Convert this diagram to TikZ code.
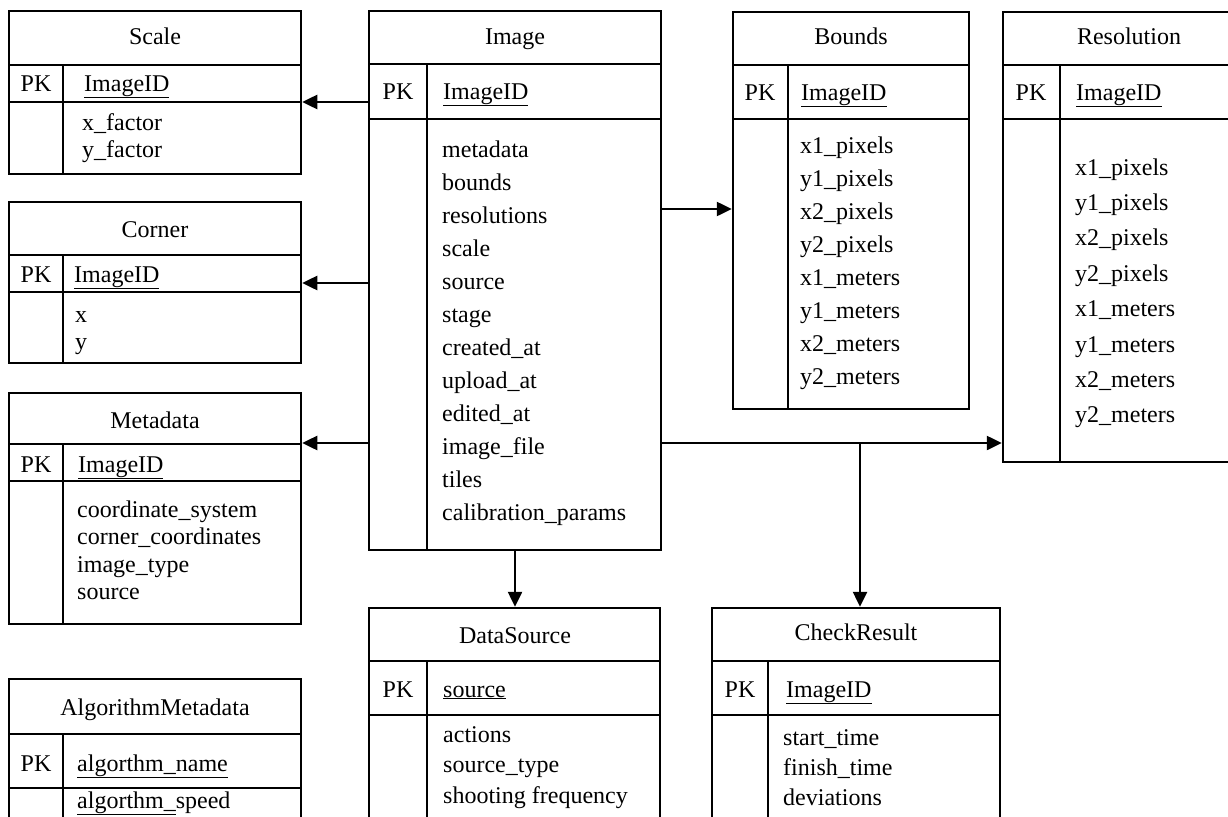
\documentclass[tikz,border=0pt]{standalone}
\usepackage{fontspec}
\setmainfont{Liberation Serif}
\usetikzlibrary{arrows.meta}

\begin{document}
\begin{tikzpicture}[
    x=1pt, y=-1pt,
    every node/.style={font=\fontsize{24}{28}\selectfont, inner sep=0pt},
    tbl/.style={draw, line width=2.5pt, rectangle},
    rowline/.style={line width=2pt},
    colline/.style={line width=1.3pt},
    title/.style={anchor=base},
    key/.style={anchor=base west},
    fields/.style={anchor=base west, font=\fontsize{24}{#1}\selectfont},
    link/.style={line width=2.5pt, -{Triangle[length=15pt, width=14pt]}}
  ]
  \useasboundingbox (0,0) rectangle (1228,816);
  \clip (0,0) rectangle (1228,816);

  % tables
  \node[tbl, minimum width=292pt, minimum height=163pt] (scale) at (155,92.5) {};
  \node[tbl, minimum width=292pt, minimum height=161pt] (corner) at (155,282.5) {};
  \node[tbl, minimum width=292pt, minimum height=231pt] (metadata) at (155,508.5) {};
  \node[tbl, minimum width=292pt, minimum height=201pt] (algometa) at (155,779.5) {};
  \node[tbl, minimum width=292pt, minimum height=539pt] (image) at (515,280.5) {};
  \node[tbl, minimum width=236pt, minimum height=397pt] (bounds) at (851,210.5) {};
  \node[tbl, minimum width=252pt, minimum height=450pt] (resolution) at (1129,237) {};
  \node[tbl, minimum width=291pt, minimum height=272pt] (datasource) at (514.5,744) {};
  \node[tbl, minimum width=288pt, minimum height=272pt] (checkresult) at (856,744) {};

  % rows and key column
  \draw[rowline] (9,65) -- (301,65) (9,102) -- (301,102);
  \draw[colline] (63,65) -- (63,174);
  \draw[rowline] (9,255) -- (301,255) (9,292) -- (301,292);
  \draw[colline] (63,255) -- (63,363);
  \draw[rowline] (9,444) -- (301,444) (9,481) -- (301,481);
  \draw[colline] (63,444) -- (63,624);
  \draw[rowline] (9,734) -- (301,734) (9,788) -- (301,788);
  \draw[colline] (63,734) -- (63,880);
  \draw[rowline] (369,64) -- (661,64) (369,119) -- (661,119);
  \draw[colline] (427,64) -- (427,550);
  \draw[rowline] (733,65) -- (969,65) (733,119) -- (969,119);
  \draw[colline] (788,65) -- (788,409);
  \draw[rowline] (1003,65) -- (1255,65) (1003,119) -- (1255,119);
  \draw[colline] (1060,65) -- (1060,462);
  \draw[rowline] (369,661) -- (660,661) (369,715) -- (660,715);
  \draw[colline] (427,661) -- (427,880);
  \draw[rowline] (712,661) -- (1000,661) (712,715) -- (1000,715);
  \draw[colline] (768,661) -- (768,880);

  % Scale
  \node[title] (scale-t) at (155,45) {Scale};
  \node[title] (scale-pk) at (36,91) {PK};
  \node[key] (scale-id) at (84,91) {\underline{ImageID}};
  \node[fields=27] (scale-f) at (82,130) {\begin{tabular}[t]{@{}l@{}}x\_factor\\y\_factor\end{tabular}};

  % Corner
  \node[title] (corner-t) at (155,237) {Corner};
  \node[title] (corner-pk) at (36,282) {PK};
  \node[key] (corner-id) at (74,282) {\underline{ImageID}};
  \node[fields=27] (corner-f) at (75,322) {\begin{tabular}[t]{@{}l@{}}x\\y\end{tabular}};

  % Metadata
  \node[title] (metadata-t) at (155,428) {Metadata};
  \node[title] (metadata-pk) at (36,472) {PK};
  \node[key] (metadata-id) at (78,472) {\underline{ImageID}};
  \node[fields=27.5] (metadata-f) at (77,517) {\begin{tabular}[t]{@{}l@{}}coordinate\_system\\corner\_coordinates\\image\_type\\source\end{tabular}};

  % AlgorithmMetadata
  \node[title] (algometa-t) at (155,715) {AlgorithmMetadata};
  \node[title] (algometa-pk) at (36,771) {PK};
  \node[key] (algometa-id) at (77,771) {\underline{algorthm\_name}};
  \node[key] (algometa-f) at (77,808) {\underline{algorthm\_}speed};

  % Image
  \node[title] (image-t) at (515,45) {Image};
  \node[title] (image-pk) at (398,99) {PK};
  \node[key] (image-id) at (443,99) {\underline{ImageID}};
  \node[fields=33] (image-f) at (442,157) {\begin{tabular}[t]{@{}l@{}}metadata\\bounds\\resolutions\\scale\\source\\stage\\created\_at\\upload\_at\\edited\_at\\image\_file\\tiles\\calibration\_params\end{tabular}};

  % Bounds
  \node[title] (bounds-t) at (851,45) {Bounds};
  \node[title] (bounds-pk) at (760,100) {PK};
  \node[key] (bounds-id) at (801,100) {\underline{ImageID}};
  \node[fields=33] (bounds-f) at (800,153) {\begin{tabular}[t]{@{}l@{}}x1\_pixels\\y1\_pixels\\x2\_pixels\\y2\_pixels\\x1\_meters\\y1\_meters\\x2\_meters\\y2\_meters\end{tabular}};

  % Resolution
  \node[title] (resolution-t) at (1129,45) {Resolution};
  \node[title] (resolution-pk) at (1031,100) {PK};
  \node[key] (resolution-id) at (1076,100) {\underline{ImageID}};
  \node[fields=35.4] (resolution-f) at (1075,175) {\begin{tabular}[t]{@{}l@{}}x1\_pixels\\y1\_pixels\\x2\_pixels\\y2\_pixels\\x1\_meters\\y1\_meters\\x2\_meters\\y2\_meters\end{tabular}};

  % DataSource
  \node[title] (datasource-t) at (515,643) {DataSource};
  \node[title] (datasource-pk) at (398,697) {PK};
  \node[key] (datasource-id) at (443,697) {\underline{source}};
  \node[fields=30.5] (datasource-f) at (443,742) {\begin{tabular}[t]{@{}l@{}}actions\\source\_type\\shooting frequency\end{tabular}};

  % CheckResult
  \node[title] (checkresult-t) at (856,640) {CheckResult};
  \node[title] (checkresult-pk) at (740,697) {PK};
  \node[key] (checkresult-id) at (786,697) {\underline{ImageID}};
  \node[fields=30] (checkresult-f) at (783,745) {\begin{tabular}[t]{@{}l@{}}start\_time\\finish\_time\\deviations\end{tabular}};

  % links
  \coordinate (r1) at (0,102);
  \coordinate (r2) at (0,283);
  \coordinate (r3) at (0,443);
  \coordinate (r4) at (0,209);
  \coordinate (j) at (860,443);
  \draw[link] (image.west |- r1) -- (scale.east |- r1);
  \draw[link] (image.west |- r2) -- (corner.east |- r2);
  \draw[link] (image.west |- r3) -- (metadata.east |- r3);
  \draw[link] (image.east |- r4) -- (bounds.west |- r4);
  \draw[link] (image.east |- r3) -- (resolution.west |- r3);
  \draw[link] (j) -- (j |- checkresult.north);
  \draw[link] (image.south) -- (image.south |- datasource.north);
\end{tikzpicture}
\end{document}
